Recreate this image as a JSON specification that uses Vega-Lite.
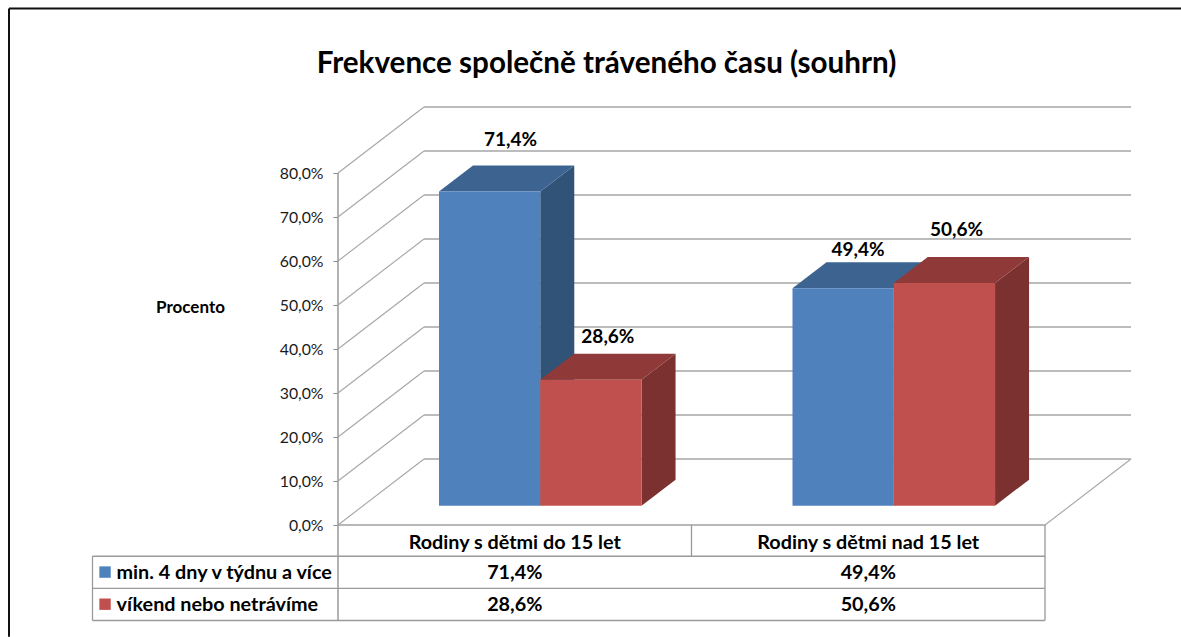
{
"$schema":"https://vega.github.io/schema/vega-lite/v6.json",
"width":707,"height":352,
"autosize":"none",
"padding":{"left":338,"top":173,"right":136,"bottom":112},
"background":"white",
"title":{"text":"Frekvence společně tráveného času (souhrn)","anchor":"middle","dx":-85,"offset":-72,"font":"Lato","fontSize":29.6,"fontWeight":"bold","color":"#000000"},
"config":{"view":{"stroke":null}},
"datasets":{
"hodnoty":[
{"skupina":"Rodiny s dětmi do 15 let","rada":"min. 4 dny v týdnu a více","hodnota":71.4},
{"skupina":"Rodiny s dětmi do 15 let","rada":"víkend nebo netrávíme","hodnota":28.6},
{"skupina":"Rodiny s dětmi nad 15 let","rada":"min. 4 dny v týdnu a více","hodnota":49.4},
{"skupina":"Rodiny s dětmi nad 15 let","rada":"víkend nebo netrávíme","hodnota":50.6}
],
"znacky":[{"t":0},{"t":10},{"t":20},{"t":30},{"t":40},{"t":50},{"t":60},{"t":70},{"t":80}],
"linky":[{"y":-7.1},{"y":-14.4},{"y":-21.7}]
},
"transform":[],
"layer":[
{"data":{"values":[{"a":-0.9307,"c":2.385,"y":117.4}]},
 "mark":{"type":"rule","color":"#111111","strokeWidth":2},
 "encoding":{"x":{"field":"a","type":"quantitative","scale":{"domain":[0,2],"nice":false},"axis":null},"x2":{"field":"c"},"y":{"field":"y","type":"quantitative","scale":{"domain":[0,80],"nice":false},
   "axis":{"title":"Procento","values":[0,10,20,30,40,50,60,70,80],"labelExpr":"replace(format(datum.value,'.1f'),'.',',')+'%'","labelFont":"Lato","labelFontSize":15.8,"labelColor":"#1a1a1a","labelPadding":10,"tickColor":"#888888","tickSize":5,"domain":false,"grid":false,
   "titleFont":"Lato","titleFontSize":17,"titleFontWeight":"bold","titleColor":"#000000","titleAngle":0,"titleX":-148,"titleY":143,"titleAlign":"center"}}}},
{"data":{"values":[{"a":-0.9307,"b":-25.4,"d":117.4}]},
 "mark":{"type":"rule","color":"#111111","strokeWidth":2},
 "encoding":{"x":{"field":"a","type":"quantitative"},"y":{"field":"b","type":"quantitative"},"y2":{"field":"d"}}},
{"data":{"name":"znacky"},
 "transform":[{"calculate":"datum.t+15","as":"zadni"}],
 "mark":{"type":"rule","color":"#a6a6a6","strokeWidth":1.3},
 "encoding":{"x":{"datum":0.2433,"type":"quantitative"},"x2":{"datum":2.2433},"y":{"field":"zadni","type":"quantitative"}}},
{"data":{"name":"znacky"},
 "transform":[{"calculate":"datum.t+15","as":"zadni"}],
 "mark":{"type":"rule","color":"#a6a6a6","strokeWidth":1.1},
 "encoding":{"x":{"datum":0,"type":"quantitative"},"x2":{"datum":0.2433},"y":{"field":"t","type":"quantitative"}, "y2":{"field":"zadni"}}},
{"data":{"values":[{"a":2,"b":0,"c":2.2433,"d":15}]},
 "mark":{"type":"rule","color":"#a6a6a6","strokeWidth":1.1},
 "encoding":{"x":{"field":"a","type":"quantitative"},"x2":{"field":"c"},"y":{"field":"b","type":"quantitative"},"y2":{"field":"d"}}},
{"data":{"values":[{"a":0,"b":-21.7,"d":80}]},
 "mark":{"type":"rule","color":"#a0a0a0","strokeWidth":1.6},
 "encoding":{"x":{"field":"a","type":"quantitative"},"y":{"field":"b","type":"quantitative"},"y2":{"field":"d"}}},
{"data":{"values":[{"a":0,"c":2,"y":0}]},
 "mark":{"type":"rule","color":"#a0a0a0","strokeWidth":1.6},
 "encoding":{"x":{"field":"a","type":"quantitative"},"x2":{"field":"c"},"y":{"field":"y","type":"quantitative"}}},
{"data":{"name":"linky"},
 "mark":{"type":"rule","color":"#9a9a9a","strokeWidth":1.3},
 "encoding":{"x":{"datum":-0.6945,"type":"quantitative"},"x2":{"datum":2},"y":{"field":"y","type":"quantitative"}}},
{"data":{"values":[{"a":1,"b":0,"d":-7.1},{"a":2,"b":0,"d":-21.7},{"a":-0.6945,"b":-7.1,"d":-21.7}]},
 "mark":{"type":"rule","color":"#9a9a9a","strokeWidth":1.3},
 "encoding":{"x":{"field":"a","type":"quantitative"},"y":{"field":"b","type":"quantitative"},"y2":{"field":"d"}}},

{"data":{"name":"hodnoty"},
 "transform":[
  {"filter":"datum.rada[0]=='m'"},
  {"calculate":"(datum.skupina=='Rodiny s dětmi do 15 let'?0:1)+0.2857","as":"x0"},
  {"calculate":"datum.x0+0.2865","as":"x1"},
  {"calculate":"[0,1]","as":"p"},{"flatten":["p"]},
  {"calculate":"datum.x1+datum.p*0.0962","as":"xx"},
  {"calculate":"4.4+datum.p*5.9","as":"yy"},
  {"calculate":"datum.yy+datum.hodnota","as":"yt"}
 ],
 "mark":{"type":"area","color":"#325378"},
 "encoding":{"x":{"field":"xx","type":"quantitative"},"y":{"field":"yy","type":"quantitative"},"y2":{"field":"yt"},"detail":{"field":"skupina"}}},
{"data":{"name":"hodnoty"},
 "transform":[
  {"filter":"datum.rada[0]=='m'"},
  {"calculate":"(datum.skupina=='Rodiny s dětmi do 15 let'?0:1)+0.2857","as":"x0"},
  {"calculate":"datum.x0+0.2865","as":"x1"},
  {"calculate":"[0,1,2,3]","as":"p"},{"flatten":["p"]},
  {"calculate":"[datum.x0,datum.x0+0.0962,datum.x1,datum.x1+0.0962][datum.p]","as":"xx"},
  {"calculate":"datum.hodnota+4.4+[0,0,0,5.9][datum.p]","as":"yy"},
  {"calculate":"datum.hodnota+4.4+[0,5.9,5.9,5.9][datum.p]","as":"yt"}
 ],
 "mark":{"type":"area","color":"#3d6490"},
 "encoding":{"x":{"field":"xx","type":"quantitative"},"y":{"field":"yy","type":"quantitative"},"y2":{"field":"yt"},"detail":{"field":"skupina"}}},
{"data":{"name":"hodnoty"},
 "transform":[
  {"filter":"datum.rada[0]=='m'"},
  {"calculate":"(datum.skupina=='Rodiny s dětmi do 15 let'?0:1)+0.2857","as":"x0"},
  {"calculate":"datum.x0+0.2865","as":"x1"},
  {"calculate":"4.4","as":"y0"},
  {"calculate":"datum.hodnota+4.4","as":"yt"}
 ],
 "mark":{"type":"rect","color":"#4f81bd"},
 "encoding":{"x":{"field":"x0","type":"quantitative"},"x2":{"field":"x1"},"y":{"field":"y0","type":"quantitative"},"y2":{"field":"yt"}}},

{"data":{"name":"hodnoty"},
 "transform":[
  {"filter":"datum.rada[0]=='v'"},
  {"calculate":"(datum.skupina=='Rodiny s dětmi do 15 let'?0:1)+0.2857+0.2865","as":"x0"},
  {"calculate":"datum.x0+0.2865","as":"x1"},
  {"calculate":"[0,1]","as":"p"},{"flatten":["p"]},
  {"calculate":"datum.x1+datum.p*0.0962","as":"xx"},
  {"calculate":"4.4+datum.p*5.9","as":"yy"},
  {"calculate":"datum.yy+datum.hodnota","as":"yt"}
 ],
 "mark":{"type":"area","color":"#7b3130"},
 "encoding":{"x":{"field":"xx","type":"quantitative"},"y":{"field":"yy","type":"quantitative"},"y2":{"field":"yt"},"detail":{"field":"skupina"}}},
{"data":{"name":"hodnoty"},
 "transform":[
  {"filter":"datum.rada[0]=='v'"},
  {"calculate":"(datum.skupina=='Rodiny s dětmi do 15 let'?0:1)+0.2857+0.2865","as":"x0"},
  {"calculate":"datum.x0+0.2865","as":"x1"},
  {"calculate":"[0,1,2,3]","as":"p"},{"flatten":["p"]},
  {"calculate":"[datum.x0,datum.x0+0.0962,datum.x1,datum.x1+0.0962][datum.p]","as":"xx"},
  {"calculate":"datum.hodnota+4.4+[0,0,0,5.9][datum.p]","as":"yy"},
  {"calculate":"datum.hodnota+4.4+[0,5.9,5.9,5.9][datum.p]","as":"yt"}
 ],
 "mark":{"type":"area","color":"#8f3a39"},
 "encoding":{"x":{"field":"xx","type":"quantitative"},"y":{"field":"yy","type":"quantitative"},"y2":{"field":"yt"},"detail":{"field":"skupina"}}},
{"data":{"name":"hodnoty"},
 "transform":[
  {"filter":"datum.rada[0]=='v'"},
  {"calculate":"(datum.skupina=='Rodiny s dětmi do 15 let'?0:1)+0.2857+0.2865","as":"x0"},
  {"calculate":"datum.x0+0.2865","as":"x1"},
  {"calculate":"4.4","as":"y0"},
  {"calculate":"datum.hodnota+4.4","as":"yt"}
 ],
 "mark":{"type":"rect","color":"#c0504d"},
 "encoding":{"x":{"field":"x0","type":"quantitative"},"x2":{"field":"x1"},"y":{"field":"y0","type":"quantitative"},"y2":{"field":"yt"}}},

{"data":{"name":"hodnoty"},
 "transform":[
  {"calculate":"(datum.skupina=='Rodiny s dětmi do 15 let'?0:1)","as":"g"},
  {"calculate":"datum.rada[0]=='m'?0:1","as":"s"},
  {"calculate":"datum.g*2+datum.s","as":"k"},
  {"calculate":"datum.g+0.2857+0.2865*(datum.s+0.5)+[0.059,0.048,0.042,0.034][datum.k]","as":"lx"},
  {"calculate":"datum.hodnota+4.4+5.9+[5.7,3.8,2.7,6.1][datum.k]","as":"ly"},
  {"calculate":"replace(format(datum.hodnota,'.1f'),'.',',')+'%'","as":"popis"}
 ],
 "mark":{"type":"text","font":"Lato","fontSize":19,"fontWeight":"bold","color":"#000000"},
 "encoding":{"x":{"field":"lx","type":"quantitative"},"y":{"field":"ly","type":"quantitative"},"text":{"field":"popis"}}},

{"data":{"name":"hodnoty"},
 "transform":[
  {"filter":"datum.rada[0]=='m'"},
  {"calculate":"(datum.skupina=='Rodiny s dětmi do 15 let'?0:1)+0.5","as":"sx"}
 ],
 "mark":{"type":"text","font":"Lato","fontSize":19.8,"fontWeight":"bold","color":"#000000","yOffset":18},
 "encoding":{"x":{"field":"sx","type":"quantitative"},"y":{"datum":0,"type":"quantitative"},"text":{"field":"skupina"}}},
{"data":{"name":"hodnoty"},
 "transform":[
  {"calculate":"(datum.skupina=='Rodiny s dětmi do 15 let'?0:1)+0.5","as":"sx"},
  {"calculate":"datum.rada[0]=='m'?-10.8:-18.1","as":"ry"},
  {"calculate":"replace(format(datum.hodnota,'.1f'),'.',',')+'%'","as":"popis"}
 ],
 "mark":{"type":"text","font":"Lato","fontSize":19.8,"fontWeight":"bold","color":"#000000"},
 "encoding":{"x":{"field":"sx","type":"quantitative"},"y":{"field":"ry","type":"quantitative"},"text":{"field":"popis"}}},
{"data":{"name":"hodnoty"},
 "transform":[
  {"filter":"datum.skupina=='Rodiny s dětmi do 15 let'"},
  {"calculate":"datum.rada[0]=='m'?-10.8:-18.1","as":"ry"},
  {"calculate":"-0.6265","as":"tx"}
 ],
 "mark":{"type":"text","font":"Lato","fontSize":19.8,"fontWeight":"bold","color":"#000000","align":"left"},
 "encoding":{"x":{"field":"tx","type":"quantitative"},"y":{"field":"ry","type":"quantitative"},"text":{"field":"rada"}}},
{"data":{"name":"hodnoty"},
 "transform":[
  {"filter":"datum.skupina=='Rodiny s dětmi do 15 let'"},
  {"calculate":"datum.rada[0]=='m'?-10.7:-18","as":"ry"},
  {"calculate":"-0.659","as":"tx"}
 ],
 "mark":{"type":"point","shape":"square","filled":true,"opacity":1,"size":130},
 "encoding":{"x":{"field":"tx","type":"quantitative"},"y":{"field":"ry","type":"quantitative"},
  "color":{"field":"rada","type":"nominal","scale":{"domain":["min. 4 dny v týdnu a více","víkend nebo netrávíme"],"range":["#4f81bd","#c0504d"]},"legend":null}}}
]
}
